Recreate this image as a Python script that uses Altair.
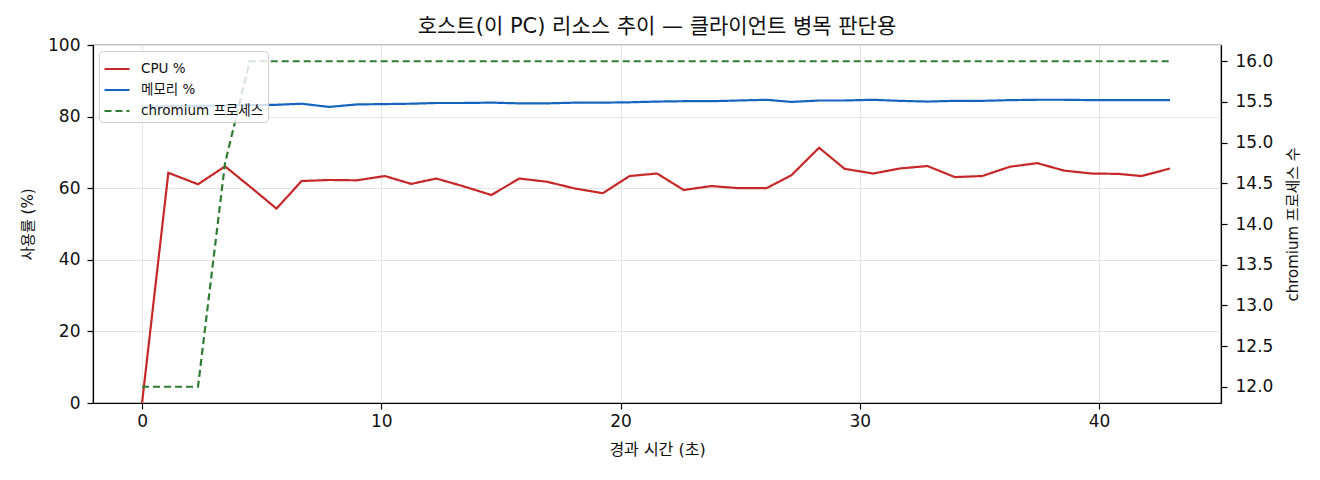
import pandas as pd
import altair as alt

FONT = "DejaVu Sans, Noto Sans CJK KR"

# sample times (s) and series
elapsed = [0, 1.10, 2.34, 3.47, 4.50, 5.62, 6.67, 7.82, 8.98, 10.15,
           11.25, 12.30, 13.40, 14.60, 15.77, 16.93, 18.10, 19.26, 20.38, 21.53,
           22.64, 23.80, 24.95, 26.10, 27.14, 28.30, 29.37, 30.56, 31.67, 32.83,
           33.97, 35.12, 36.28, 37.42, 38.55, 39.70, 40.80, 41.78, 42.97]
cpu = [0, 64.3, 61.1, 66.1, 60.5, 54.3, 62.0, 62.3, 62.2, 63.4,
       61.2, 62.7, 60.6, 58.1, 62.7, 61.8, 59.9, 58.6, 63.4, 64.1,
       59.5, 60.6, 60.0, 60.0, 63.6, 71.3, 65.4, 64.1, 65.5, 66.2,
       63.1, 63.4, 66.0, 67.0, 64.9, 64.1, 64.0, 63.4, 65.5]
mem = [82.8, 82.9, 83.0, 83.1, 83.2, 83.3, 83.6, 82.7, 83.4, 83.5,
       83.6, 83.8, 83.8, 83.9, 83.7, 83.7, 83.9, 83.9, 84.0, 84.2,
       84.3, 84.3, 84.5, 84.7, 84.1, 84.5, 84.5, 84.7, 84.4, 84.2,
       84.4, 84.4, 84.6, 84.7, 84.7, 84.6, 84.6, 84.6, 84.6]
chromium = [12, 12, 12, 14.75, 16, 16, 16, 16, 16, 16,
            16, 16, 16, 16, 16, 16, 16, 16, 16, 16,
            16, 16, 16, 16, 16, 16, 16, 16, 16, 16,
            16, 16, 16, 16, 16, 16, 16, 16, 16]

series_names = ["CPU %", "메모리 %", "chromium 프로세스"]
series_colors = ["#c62828", "#1565c0", "#2e7d32"]

left_df = pd.concat([
    pd.DataFrame({"t": elapsed, "v": cpu, "series": "CPU %"}),
    pd.DataFrame({"t": elapsed, "v": mem, "series": "메모리 %"}),
])
right_df = pd.DataFrame({"t": elapsed, "v": chromium, "series": "chromium 프로세스"})


def make_legend():
    return alt.Legend(title=None, orient="top-left", offset=6,
                      symbolType="stroke", symbolSize=625, symbolStrokeWidth=2.2,
                      labelFontSize=13.5, labelFont=FONT, labelColor="#111",
                      rowPadding=-1.5, padding=4,
                      fillColor="rgba(255,255,255,0.8)", strokeColor="#cccccc",
                      cornerRadius=4, labelOffset=10)


x_enc = alt.X("t:Q", scale=alt.Scale(domain=[-2.05, 45.1], nice=False, zero=False),
              axis=alt.Axis(title="경과 시간 (초)", values=[0, 10, 20, 30, 40], grid=True,
                            titlePadding=12, labelPadding=4, titleFontSize=16))
color_enc = alt.Color("series:N", scale=alt.Scale(domain=series_names, range=series_colors),
                      legend=make_legend())
dash_enc = alt.StrokeDash("series:N", scale=alt.Scale(domain=series_names,
                                                      range=[[1, 0], [1, 0], [7, 4]]),
                          legend=make_legend())

left = alt.Chart(left_df).mark_line(strokeWidth=2.2).encode(
    x=x_enc,
    y=alt.Y("v:Q", scale=alt.Scale(domain=[0, 100], nice=False),
            axis=alt.Axis(title="사용률 (%)", values=[0, 20, 40, 60, 80, 100], grid=True,
                          titlePadding=12, labelPadding=7)),
    color=color_enc,
    strokeDash=dash_enc,
    detail="series:N",
)

right = alt.Chart(right_df).mark_line(strokeWidth=2.2).encode(
    x=x_enc,
    y=alt.Y("v:Q", scale=alt.Scale(domain=[11.8, 16.2], nice=False, zero=False),
            axis=alt.Axis(title="chromium 프로세스 수", orient="right", grid=False,
                          values=[12, 12.5, 13, 13.5, 14, 14.5, 15, 15.5, 16],
                          format=".1f", titleAngle=270, titleBaseline="top",
                          titlePadding=13, labelPadding=8)),
    color=color_enc,
    strokeDash=dash_enc,
)

chart = alt.layer(left, right).resolve_scale(y="independent").properties(
    width=1128,
    height=358,
    autosize=alt.AutoSizeParams(type="none"),
    padding={"left": 85, "top": 37, "right": 80, "bottom": 60},
    title=alt.TitleParams("호스트(이 PC) 리소스 추이 — 클라이언트 병목 판단용",
                          font=FONT, fontSize=21, fontWeight="normal", color="#111",
                          offset=8, dy=9),
).configure_view(
    stroke="black", strokeWidth=1.2
).configure_axis(
    labelFont=FONT, titleFont=FONT, labelFontSize=17, titleFontSize=15,
    titleFontWeight="normal", labelColor="#111", titleColor="#111",
    domainColor="black", domainWidth=1.2, tickColor="black", tickWidth=1.2,
    tickSize=6,
    gridColor="#e3e3e3", gridWidth=1,
)

chart.save("out.html", embed_options={"renderer": "svg", "actions": False})
